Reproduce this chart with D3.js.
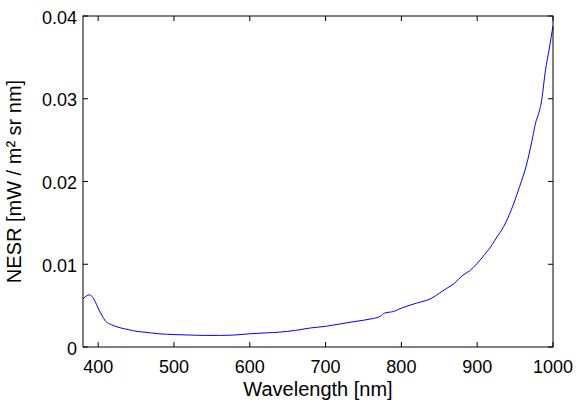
<html>
<head>
  <script src="https://d3js.org/d3.v7.min.js"></script>
  <style>
  body { margin: 0; background: #fff; }
  text { font-family: "Liberation Sans", Arial, sans-serif; }
  </style>
</head>
<body>
  <svg width="576" height="404"></svg>

<script>
// NESR curve
var wavelength = [380, 385, 388, 392, 396, 400, 405, 410, 415, 420, 430, 440, 450, 460, 480, 500, 520, 540, 560, 580, 600,
                  620, 640, 660, 680, 700, 720, 740, 760, 772, 778, 790, 800, 820, 840, 850, 860, 870, 880, 890, 900,
                  910, 920, 926, 930, 940, 950, 956, 965, 972, 978, 980, 985, 990, 995, 1000];
var nesr = [0.0058, 0.0062, 0.0063, 0.0061, 0.0055, 0.0047, 0.0038, 0.0031, 0.0028, 0.0026, 0.0023, 0.0021, 0.0019, 0.0018, 0.0016, 0.0015, 0.00145, 0.0014, 0.0014, 0.00145, 0.0016,
            0.0017, 0.0018, 0.002, 0.0023, 0.0025, 0.0028, 0.0031, 0.0034, 0.0037, 0.0041, 0.0043, 0.0047, 0.0053, 0.0059, 0.0065, 0.0071, 0.0077, 0.0086, 0.0092, 0.0101,
            0.0112, 0.0124, 0.0133, 0.0138, 0.0155, 0.0178, 0.0194, 0.022, 0.0248, 0.0274, 0.0279, 0.0298, 0.0334, 0.036, 0.0388];
var xTicks = [400, 500, 600, 700, 800, 900, 1000];
var yTicks = [0, 0.01, 0.02, 0.03, 0.04];

var svg = d3.select("svg");
var mLeft = 83, mRight = 553, mTop = 16, mBottom = 347;

var x = d3.scaleLinear().domain([380, 1000]).range([mLeft, mRight]);
var y = d3.scaleLinear().domain([0, 0.04]).range([mBottom, mTop]);

var fmtY = function(d) { return d === 0 ? "0" : d3.format(".2f")(d); };

// curve
var line = d3.line()
  .x(function(d, i) { return x(wavelength[i]); })
  .y(function(d) { return y(d); })
  .curve(d3.curveMonotoneX);

svg.append("path")
  .datum(nesr)
  .attr("d", line)
  .attr("fill", "none")
  .attr("stroke", "#0000ff")
  .attr("stroke-width", 1);

// box
svg.append("rect")
  .attr("x", mLeft).attr("y", mTop)
  .attr("width", mRight - mLeft).attr("height", mBottom - mTop)
  .attr("fill", "none").attr("stroke", "#000").attr("stroke-width", 1);

// ticks, inward on all sides
var tk = 5;
xTicks.forEach(function(t) {
  svg.append("line").attr("x1", x(t)).attr("x2", x(t)).attr("y1", mBottom).attr("y2", mBottom - tk).attr("stroke", "#000");
  svg.append("line").attr("x1", x(t)).attr("x2", x(t)).attr("y1", mTop).attr("y2", mTop + tk).attr("stroke", "#000");
  svg.append("text").attr("x", x(t)).attr("y", 373)
    .attr("text-anchor", "middle").attr("font-size", "18px").text(t);
});
yTicks.forEach(function(t) {
  svg.append("line").attr("x1", mLeft).attr("x2", mLeft + tk).attr("y1", y(t)).attr("y2", y(t)).attr("stroke", "#000");
  svg.append("line").attr("x1", mRight).attr("x2", mRight - tk).attr("y1", y(t)).attr("y2", y(t)).attr("stroke", "#000");
  svg.append("text").attr("x", 77).attr("y", y(t) + 7.5)
    .attr("text-anchor", "end").attr("font-size", "18px").text(fmtY(t));
});

// labels
svg.append("text").attr("x", (mLeft + mRight) / 2).attr("y", 396)
  .attr("text-anchor", "middle").attr("font-size", "20px").text("Wavelength [nm]");

svg.append("text")
  .attr("transform", "translate(21," + ((mTop + mBottom) / 2) + ") rotate(-90)")
  .attr("text-anchor", "middle").attr("font-size", "20px").text("NESR [mW / m² sr nm]");
</script>
</body></html>
